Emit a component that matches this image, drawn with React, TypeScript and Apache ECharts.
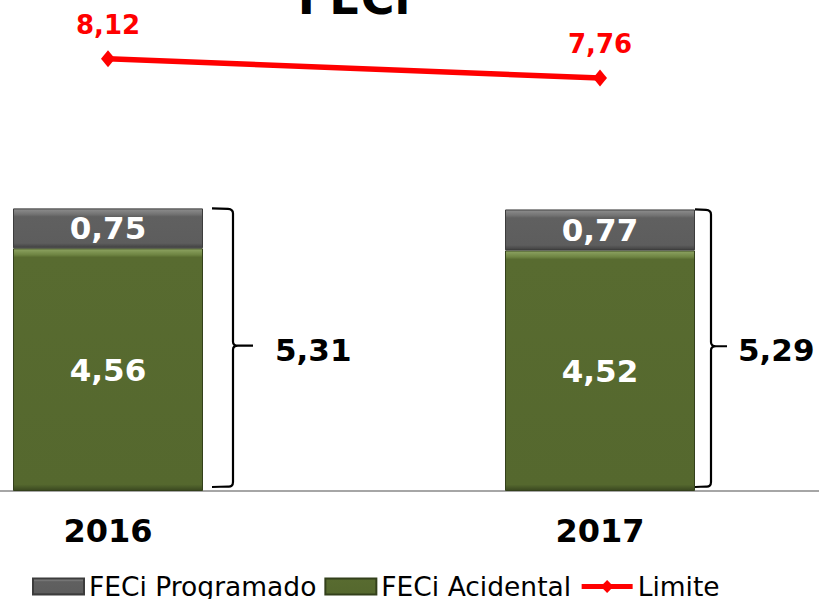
import React, { useEffect, useRef } from "react";
import * as echarts from "echarts";

const categories = ["2016", "2017"];
const acidental = [4.56, 4.52];
const programado = [0.75, 0.77];
const limite = [8.12, 7.76];
const totals = [5.31, 5.29];

const FONT = "'DejaVu Sans', Verdana, sans-serif";
const fmt = (v: number) => v.toFixed(2).replace(".", ",");

// the chart canvas is wider than the visible frame and shifted left
const SHIFT = 138;
const CHART_W = 984;

// brace layout offsets relative to category centre (pixels)
const braceLayout = [
  { hook: 104, vert: 125, tip: 145, label: 167 },
  { hook: 95, vert: 111, tip: 127, label: 138 },
];

export default function App() {
  const ref = useRef<HTMLDivElement>(null);
  useEffect(() => {
    document.body.style.margin = "0";
    if (!ref.current) return;
    const chart = echarts.init(ref.current, null, { renderer: "svg" });
    const option: any = {
      animation: false,
      backgroundColor: "#ffffff",
      textStyle: { fontFamily: FONT },
      graphic: [
        {
          type: "text",
          x: 354 + SHIFT,
          y: -2,
          style: {
            text: "FECi",
            font: `bold 46px ${FONT}`,
            fill: "#000",
            align: "center",
            verticalAlign: "middle",
          },
        },
      ],
      grid: { left: 0, right: 0, top: 12, bottom: 108, containLabel: false },
      legend: {
        data: [
          { name: "FECi Programado", icon: "rect" },
          { name: "FECi Acidental", icon: "rect" },
          { name: "Limite", lineStyle: { width: 5, color: "#ff0000" } },
        ],
        left: 27 + SHIFT,
        top: 568,
        itemWidth: 51,
        itemHeight: 16,
        itemGap: 8,
        textStyle: { fontSize: 26.5, fontFamily: FONT, color: "#000" },
      },
      xAxis: {
        type: "category",
        data: categories,
        axisLine: { show: true, lineStyle: { color: "#a6a6a6", width: 2 } },
        axisTick: { show: false },
        axisLabel: {
          fontSize: 32,
          fontWeight: "bold",
          fontFamily: FONT,
          color: "#000",
          margin: 24,
        },
      },
      yAxis: {
        type: "value",
        min: 0,
        max: 9,
        show: false,
        splitLine: { show: false },
      },
      series: [
        {
          name: "FECi Acidental",
          type: "bar",
          stack: "feci",
          barWidth: 190,
          data: acidental,
          itemStyle: {
            color: {
              type: "linear",
              x: 0,
              y: 0,
              x2: 0,
              y2: 1,
              colorStops: [
                { offset: 0, color: "#8ea463" },
                { offset: 0.025, color: "#6e8442" },
                { offset: 0.035, color: "#586b30" },
                { offset: 0.975, color: "#55682e" },
                { offset: 1, color: "#3a4820" },
              ],
            },
            borderColor: "#33401b",
            borderWidth: 1,
          },
          label: {
            show: true,
            position: "inside",
            formatter: (p: any) => fmt(p.value),
            color: "#fff",
            fontSize: 31,
            fontWeight: "bold",
            fontFamily: FONT,
          },
          z: 2,
        },
        {
          name: "FECi Programado",
          type: "bar",
          stack: "feci",
          barWidth: 190,
          data: programado,
          itemStyle: {
            color: {
              type: "linear",
              x: 0,
              y: 0,
              x2: 0,
              y2: 1,
              colorStops: [
                { offset: 0, color: "#8e8e8e" },
                { offset: 0.14, color: "#727272" },
                { offset: 0.2, color: "#606060" },
                { offset: 0.88, color: "#5d5d5d" },
                { offset: 1, color: "#404040" },
              ],
            },
            borderColor: "#3c3c3c",
            borderWidth: 1,
          },
          label: {
            show: true,
            position: "inside",
            formatter: (p: any) => fmt(p.value),
            color: "#fff",
            fontSize: 31,
            fontWeight: "bold",
            fontFamily: FONT,
          },
          z: 2,
        },
        {
          name: "Limite",
          type: "line",
          data: limite,
          symbol: "diamond",
          symbolSize: [14, 17],
          lineStyle: { color: "#ff0000", width: 5.5 },
          itemStyle: { color: "#ff0000" },
          label: {
            show: true,
            position: "top",
            distance: 12,
            formatter: (p: any) => fmt(p.value),
            color: "#ff0000",
            fontSize: 26,
            fontWeight: "bold",
            fontFamily: FONT,
          },
          z: 5,
        },
        {
          name: "Total",
          type: "custom",
          data: totals.map((t, i) => [i, t]),
          silent: true,
          z: 4,
          renderItem: (params: any, api: any) => {
            const idx = api.value(0);
            const total = api.value(1);
            const top = api.coord([idx, total]);
            const bot = api.coord([idx, 0]);
            const L = braceLayout[idx] || braceLayout[0];
            const cx = top[0];
            const y0 = top[1];
            const y1 = bot[1] - 4;
            const mid = (y0 + y1) / 2 - 2;
            const hx = cx + L.hook;
            const vx = cx + L.vert;
            const tx = cx + L.tip;
            const r = 5;
            const d =
              `M${hx} ${y0} L${vx - r} ${y0 + 0.5} Q${vx} ${y0 + 1} ${vx} ${y0 + r} ` +
              `L${vx} ${mid - 4} Q${vx} ${mid} ${vx + 5} ${mid} L${tx} ${mid} ` +
              `M${vx + 5} ${mid} Q${vx} ${mid} ${vx} ${mid + 4} ` +
              `L${vx} ${y1 - r} Q${vx} ${y1} ${vx - r} ${y1 - 0.5} L${hx} ${y1}`;
            return {
              type: "group",
              children: [
                {
                  type: "path",
                  shape: { pathData: d },
                  style: { stroke: "#000", lineWidth: 2.2, fill: "none" },
                },
                {
                  type: "text",
                  x: cx + L.label,
                  y: mid + 4,
                  style: {
                    text: fmt(total),
                    font: `bold 31px ${FONT}`,
                    fill: "#000",
                    align: "left",
                    verticalAlign: "middle",
                  },
                },
              ],
            };
          },
        },
      ],
    };
    chart.setOption(option);
    return () => chart.dispose();
  }, []);
  return (
    <div
      style={{
        position: "relative",
        width: 819,
        height: 599,
        overflow: "hidden",
        background: "#fff",
      }}
    >
      <div
        ref={ref}
        style={{ position: "absolute", left: -SHIFT, top: 0, width: CHART_W, height: 599 }}
      />
    </div>
  );
}
